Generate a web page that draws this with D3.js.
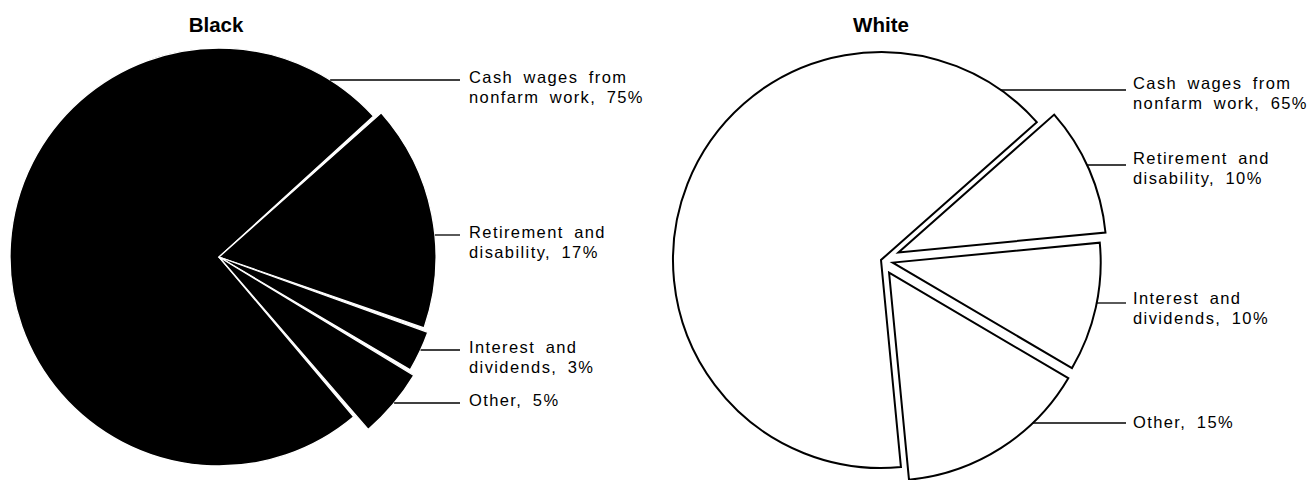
<!DOCTYPE html>
<html><head><meta charset="utf-8">
<script src="https://cdn.jsdelivr.net/npm/d3@7"></script>
<style>body{margin:0;background:#fff}svg{display:block}</style>
</head><body>
<svg id="chart" width="1312" height="480"></svg>
<script>
// ---- data ----
const categories = ["Cash wages from nonfarm work", "Retirement and disability", "Interest and dividends", "Other"];
const labelLines = [["Cash wages from", "nonfarm work,"], ["Retirement and", "disability,"], ["Interest and", "dividends,"], ["Other,"]];
const blackValues = [75, 17, 3, 5];
const whiteValues = [65, 10, 10, 15];
const panelTitles = ["Black", "White"];

// ---- layout / style ----
const panels = [
  { title: panelTitles[0], values: blackValues, cx: 219, cy: 257, cashEndDeg: 49.5,
    radii: [209, 217, 222, 228], explode: [0, 0, 0, 0], padAngle: 0.013,
    fill: "#000", stroke: "#fff", strokeWidth: 1.3,
    leaderY: [80, 235, 350, 403], leaderEnd: 460, textX: 469, baseDy: 3, titleX: 216 },
  { title: panelTitles[1], values: whiteValues, cx: 881, cy: 260, cashEndDeg: 48.5,
    radii: [208, 208, 208, 208], explode: [0, 19, 12, 15], padAngle: 0,
    fill: "#fff", stroke: "#000", strokeWidth: 2,
    leaderY: [90, 165, 303, 423], leaderEnd: 1126, textX: 1133, baseDy: [-1, -1, 1, 5], titleX: 881 }
];

const svg = d3.select("#chart");
const font = "'Liberation Sans', Arial, Helvetica, sans-serif";

panels.forEach(p => {
  const total = d3.sum(p.values);
  const cashEnd = p.cashEndDeg * Math.PI / 180;
  const start = cashEnd + 2 * Math.PI - (p.values[0] / total) * 2 * Math.PI;
  const pie = d3.pie().sort(null).value(d => d)
    .startAngle(start).endAngle(start + 2 * Math.PI).padAngle(p.padAngle);
  const arcs = pie(p.values);

  const g = svg.append("g");
  g.append("text").attr("x", p.titleX).attr("y", 32)
    .attr("text-anchor", "middle").attr("font-family", font)
    .attr("font-weight", "bold").attr("font-size", 20.5).text(p.title);

  const centers = arcs.map((a, i) => {
    const mid = (a.startAngle + a.endAngle) / 2;
    return [p.cx + p.explode[i] * Math.sin(mid), p.cy - p.explode[i] * Math.cos(mid)];
  });

  g.selectAll("path.slice").data(arcs).join("path")
    .attr("class", "slice")
    .attr("transform", (d, i) => `translate(${centers[i][0]},${centers[i][1]})`)
    .attr("d", (d, i) => d3.arc().innerRadius(0).outerRadius(p.radii[i])(d))
    .attr("fill", p.fill)
    .attr("stroke", p.stroke)
    .attr("stroke-width", p.strokeWidth)
    .attr("stroke-linejoin", "miter");

  arcs.forEach((a, i) => {
    const ly = p.leaderY[i];
    const [sx, sy] = centers[i];
    const r = p.radii[i];
    const dy = ly - sy;
    const x0 = sx + Math.sqrt(Math.max(0, r * r - dy * dy));
    g.append("line").attr("x1", x0).attr("x2", p.leaderEnd)
      .attr("y1", ly).attr("y2", ly)
      .attr("stroke", "#000").attr("stroke-width", 1.3);
    const bd = Array.isArray(p.baseDy) ? p.baseDy[i] : p.baseDy;
    const lines = labelLines[i].slice();
    lines[lines.length - 1] = lines[lines.length - 1] + " " + p.values[i] + "%";
    const t = g.append("text").attr("font-family", font).attr("font-size", 16.5)
      .attr("letter-spacing", 1.4).attr("word-spacing", 4.5).attr("fill", "#000");
    lines.forEach((ln, k) => {
      t.append("tspan").attr("x", p.textX).attr("y", ly + bd + k * 20).text(ln);
    });
  });
});
</script>
</body></html>
